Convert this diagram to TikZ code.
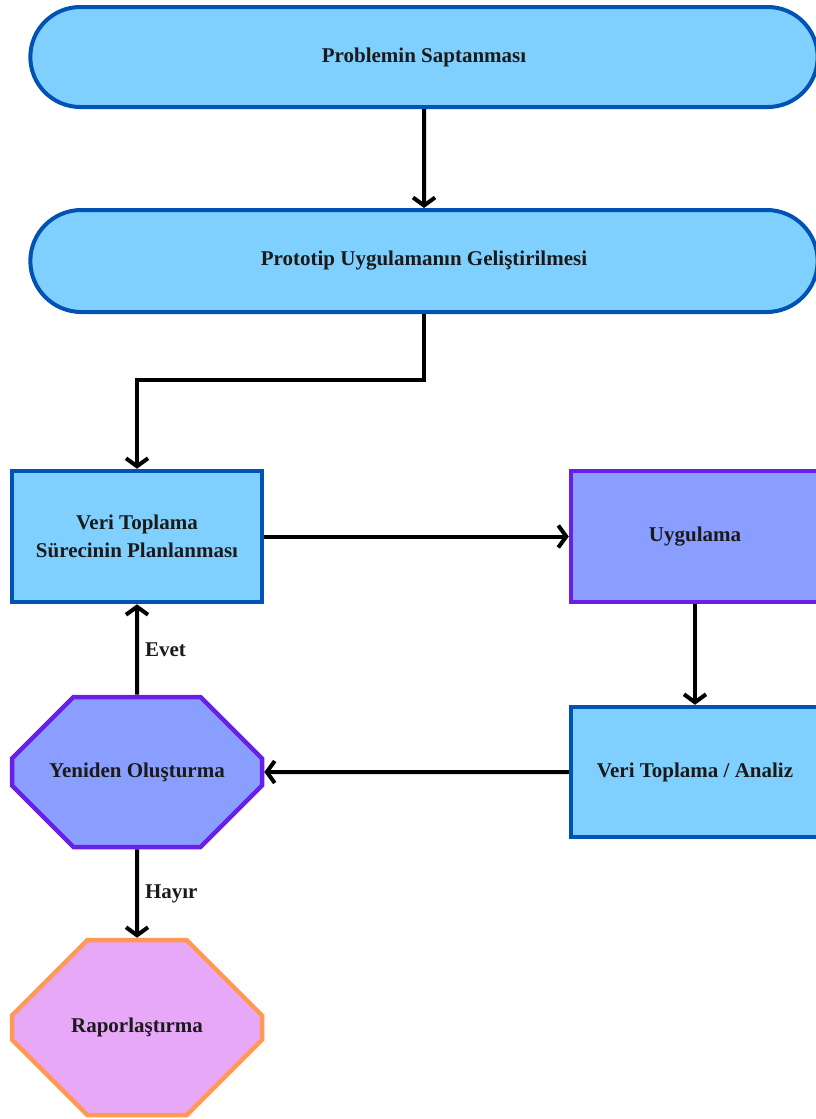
\documentclass[tikz,border=0pt]{standalone}
\usepackage{fontspec}
\setmainfont{Liberation Serif}
\usetikzlibrary{arrows.meta,shapes.misc}

\definecolor{skyfill}{HTML}{80D0FF}
\definecolor{skyline}{HTML}{0052B4}
\definecolor{lilacfill}{HTML}{8A9EFF}
\definecolor{lilacline}{HTML}{6A1FE8}
\definecolor{pinkfill}{HTML}{E8A8F8}
\definecolor{pinkline}{HTML}{FF9955}
\definecolor{inktext}{HTML}{1A1A1A}

\tikzset{
  every node/.style={font=\bfseries\fontsize{21}{28}\selectfont, text=inktext},
  stadium/.style={rounded rectangle, draw=skyline, fill=skyfill, line width=4pt,
    minimum width=794pt, minimum height=100pt},
  skybox/.style={rectangle, draw=skyline, fill=skyfill, line width=4.5pt,
    minimum width=250pt, minimum height=131pt, align=center},
  lilacbox/.style={rectangle, draw=lilacline, fill=lilacfill, line width=4.5pt,
    minimum width=248pt, minimum height=131pt},
  octo/.style={chamfered rectangle, line width=4.5pt,
    minimum width=250pt, inner sep=0pt},
  arr/.style={line width=4pt,
    -{Straight Barb[length=8pt,width=22pt,line width=4pt]}},
  lbl/.style={right, inner sep=6pt}
}

\begin{document}
\begin{tikzpicture}[x=1pt,y=-1pt]
\useasboundingbox (0,0) rectangle (816,1119);

\node [stadium] (P) at (424,57) {Problemin Saptanması};
\node [stadium, minimum height=102pt] (G) at (424,261) {Prototip Uygulamanın Geliştirilmesi};
\node [skybox] (V) at (137,536.5) {Veri Toplama\\Sürecinin Planlanması};
\node [lilacbox] (U) at (695,536.5) {Uygulama};
\node [skybox, minimum width=248pt, minimum height=130pt] (VA) at (695,772) {Veri Toplama / Analiz};
\node [octo, draw=lilacline, fill=lilacfill, minimum height=150pt,
  chamfered rectangle xsep=54pt, chamfered rectangle ysep=52pt] (Y) at (137,772) {Yeniden Oluşturma};
\node [octo, draw=pinkline, fill=pinkfill, minimum height=175pt,
  chamfered rectangle xsep=78pt, chamfered rectangle ysep=77pt] (R) at (137,1027.5) {Raporlaştırma};

\path [arr] (P) edge (G);
\draw [arr] (G.south) -- ++(0,66) -| (V);
\path [arr] (V) edge (U);
\path [arr] (U) edge (VA);
\path [arr] (VA) edge (Y);
\path [arr] (Y) edge node [lbl] {Evet} (V);
\path [arr] (Y) edge node [lbl] {Hayır} (R);
\end{tikzpicture}
\end{document}
